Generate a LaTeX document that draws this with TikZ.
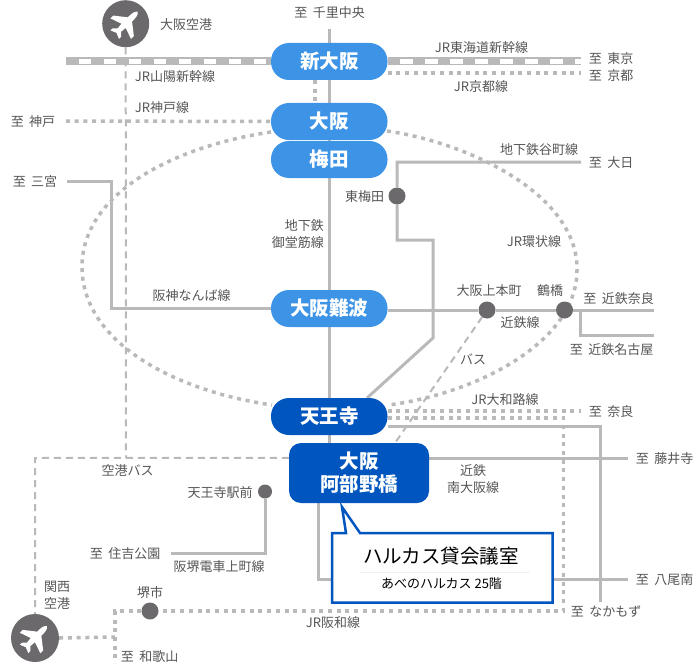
\documentclass[tikz,border=0pt]{standalone}
\usepackage{fontspec}
\setmainfont{Noto Sans CJK JP}
\usetikzlibrary{backgrounds}
\definecolor{lineGrey}{HTML}{B9B9B9}
\definecolor{textGrey}{HTML}{555555}
\definecolor{dotGrey}{HTML}{6B696B}
\definecolor{lightBlue}{HTML}{3D94E6}
\definecolor{darkBlue}{HTML}{0056BE}
\newcommand{\toward}{至\hspace{5.5pt}}
\tikzset{
  pill/.style={fill=lightBlue,text=white,rounded corners=18pt,minimum width=116.5pt,minimum height=37pt,inner sep=0pt,font=\bfseries\fontsize{19.5}{23}\selectfont,align=center},
  darkpill/.style={pill,fill=darkBlue},
  place/.style={inner sep=0pt,yshift=-1pt,text=textGrey,font=\fontsize{13}{17}\selectfont,align=center},
  stop/.style={circle,fill=dotGrey,inner sep=0pt,minimum size=#1},
  rail/.style={draw=lineGrey,line width=3pt},
  jrline/.style={draw=lineGrey,line width=3.5pt,dash pattern=on 4pt off 4.7pt},
  busline/.style={draw=lineGrey,line width=2pt,dash pattern=on 7pt off 5pt},
  shinkansen/.style={draw=lineGrey,line width=8pt,postaction={draw=white,line width=4.5pt,dash pattern=on 12.5pt off 12.5pt,dash phase=12.5pt}}
}
\newcommand{\planeicon}[1]{%
  \fill[white,shift={(#1)},rotate=-45]
    (0,-17) .. controls (2.6,-15) and (3,-12) .. (3,-6) -- (14.5,3) -- (14.5,7) -- (3,3)
    -- (2.4,9) -- (6,12.5) -- (6,15.5) -- (0,13) -- (-6,15.5) -- (-6,12.5) -- (-2.4,9)
    -- (-3,3) -- (-14.5,7) -- (-14.5,3) -- (-3,-6) .. controls (-3,-12) and (-2.6,-15) .. (0,-17) -- cycle;}
\begin{document}
\begin{tikzpicture}[x=1pt,y=-1pt]
  \useasboundingbox (0,0) rectangle (700,663);
  % stations
  \node[pill] (shinosaka) at (329.25,61.5) {新大阪};
  \node[pill] (osaka) at (329.25,121.5) {大阪};
  \node[pill] (umeda) at (329.25,159.5) {梅田};
  \node[pill] (namba) at (329.25,308.5) {大阪難波};
  \node[darkpill] (tennoji) at (329.25,416.5) {天王寺};
  \node[darkpill,rounded corners=12pt,minimum width=140pt,minimum height=60pt] (abeno) at (359,473) {大阪\\阿部野橋};
  \node[circle,fill=dotGrey,minimum size=47pt,inner sep=0pt] (itami) at (125.7,23.7) {};
  \node[circle,fill=dotGrey,minimum size=48pt,inner sep=0pt] (kansai) at (35,638) {};
  \planeicon{itami.center}
  \planeicon{kansai.center}
  \node[stop=17pt] (higashiumeda) at (397,196) {};
  \node[stop=17pt] (uehommachi) at (487,310) {};
  \node[stop=17pt] (tsuruhashi) at (564.5,310) {};
  \node[stop=14pt] (tennojiekimae) at (265,491.5) {};
  \node[stop=17pt] (sakai) at (150,611) {};
  % line ends
  \coordinate (senriend) at (329,29);
  \coordinate (kobeend) at (66,121);
  \coordinate (sannomiyaend) at (67,181);
  \coordinate (sanyoend) at (66,61.5);
  \coordinate (tokyoend) at (581,61.5);
  \coordinate (kyotoend) at (581,73);
  \coordinate (dainichiend) at (581,162);
  \coordinate (naraend) at (654,310);
  \coordinate (nagoyaend) at (654,335);
  \coordinate (yamatojiend) at (581,411);
  \coordinate (fujiiderend) at (628,458);
  \coordinate (yaoend) at (628,579);
  \coordinate (nakamozuend) at (600.5,602);
  \coordinate (sumiyoshiend) at (171,553);
  \coordinate (wakayamaend) at (115,663);
  % lines
  \begin{scope}[on background layer]
    \draw[rail] (senriend) -- (329,443);
    \draw[rail] (dainichiend) -- (397,162) -- (higashiumeda) -- (397,240) -- (433,240) -- (433,338) -- (367,398);
    \draw[rail] (sannomiyaend) -- (111,181) -- (111,308.5) -- (namba);
    \draw[rail] (namba.east |- uehommachi) -- (uehommachi) -- (tsuruhashi) -- (naraend);
    \draw[rail] (580,310) -- (580,335) -- (nagoyaend);
    \draw[rail] (tennoji.east |- 0,426) -- (600.5,426) -- (nakamozuend);
    \draw[rail] (abeno.east |- fujiiderend) -- (fujiiderend);
    \draw[rail] (318,503) -- (318,579) -- (yaoend);
    \draw[rail] (tennojiekimae) -- (265,553) -- (sumiyoshiend);
    \draw[shinkansen] (sanyoend) -- (shinosaka);
    \draw[shinkansen] (shinosaka.east) -- (tokyoend);
    \draw[jrline] (shinosaka.east |- kyotoend) -- (kyotoend);
    \draw[jrline] (315,80) -- (315,103);
    \draw[jrline] (kobeend) -- (osaka.west);
    \draw[jrline] (271,132) .. controls (170,147) and (82,195) .. (82,267) .. controls (82,340) and (170,390) .. (272,405);
    \draw[jrline] (387,131) .. controls (470,143) and (578,195) .. (577,270) .. controls (577,345) and (470,395) .. (388,405);
    \draw[jrline] (tennoji.east |- yamatojiend) -- (yamatojiend);
    \draw[jrline] (tennoji.east |- 0,418) -- (563.5,418) -- (563.5,611) -- (sakai) -- (115,611) -- (wakayamaend);
    \draw[jrline] (kansai.east) -- (115,637);
    \draw[busline] (itami.south) -- (126,458);
    \draw[busline] (abeno.north west) ++(0,15) -- (35,458) -- (kansai.north);
    \draw[busline] (uehommachi) -- (395,443);
  \end{scope}
  % callout
  \draw[darkBlue,line width=2.5pt,fill=white,line join=miter] (332,533) -- (346,533) -- (342,507) -- (360,533) -- (552.5,533) -- (552.5,602.5) -- (332,602.5) -- cycle;
  \node[inner sep=0pt,font=\fontsize{19.5}{24}\selectfont,text=black] (halltitle) at (441,556) {ハルカス貸会議室};
  \node[inner sep=0pt,font=\fontsize{13}{15}\selectfont,text=black] (hallfloor) at (441.5,583.5) {あべのハルカス 25階};
  \draw[black!6] (360,572) -- (530,572);
  % labels
  \node[place] (senri) at (329.5,12) {\toward 千里中央};
  \node[place] (itamilabel) at (186,24) {大阪空港};
  \node[place] (sanyo) at (175,76) {JR山陽新幹線};
  \node[place] (kobeline) at (162,107) {JR神戸線};
  \node[place] (kobe) at (33,121) {\toward 神戸};
  \node[place] (sannomiya) at (35,181) {\toward 三宮};
  \node[place] (tokaido) at (481.5,47) {JR東海道新幹線};
  \node[place] (tokyo) at (611,58) {\toward 東京};
  \node[place] (kyoto) at (611,75) {\toward 京都};
  \node[place] (kyotoline) at (481,86) {JR京都線};
  \node[place] (tanimachi) at (539,149) {地下鉄谷町線};
  \node[place] (dainichi) at (611,162) {\toward 大日};
  \node[place] (higashiumedalabel) at (364.5,196) {東梅田};
  \node[place,align=right,anchor=east] (midosuji) at (324,233.5) {地下鉄\\御堂筋線};
  \node[place] (loop) at (534,241) {JR環状線};
  \node[place] (hanshin) at (191.5,295) {阪神なんば線};
  \node[place] (uehommachilabel) at (489,290) {大阪上本町};
  \node[place] (tsuruhashilabel) at (550,290) {鶴橋};
  \node[place] (kintetsunara) at (618.5,298) {\toward 近鉄奈良};
  \node[place] (kintetsuline) at (520,322) {近鉄線};
  \node[place] (nagoya) at (611.5,349) {\toward 近鉄名古屋};
  \node[place] (bus) at (473,358) {バス};
  \node[place] (yamatoji) at (505,399) {JR大和路線};
  \node[place] (nara) at (611,411) {\toward 奈良};
  \node[place] (fujiidera) at (664.5,458) {\toward 藤井寺};
  \node[place] (yao) at (664.5,579) {\toward 八尾南};
  \node[place] (nakamozu) at (606,611) {\toward なかもず};
  \node[place] (minamiosaka) at (473,478.5) {近鉄\\南大阪線};
  \node[place] (airportbus) at (127.5,470) {空港バス};
  \node[place] (ekimae) at (220,492) {天王寺駅前};
  \node[place] (sumiyoshi) at (125,553) {\toward 住吉公園};
  \node[place] (uemachi) at (219,566) {阪堺電車上町線};
  \node[place] (kansailabel) at (57,594) {関西\\空港};
  \node[place] (sakailabel) at (150,592) {堺市};
  \node[place] (wakayama) at (149.5,656) {\toward 和歌山};
  \node[place] (hanwa) at (333,622) {JR阪和線};
\end{tikzpicture}
\end{document}
